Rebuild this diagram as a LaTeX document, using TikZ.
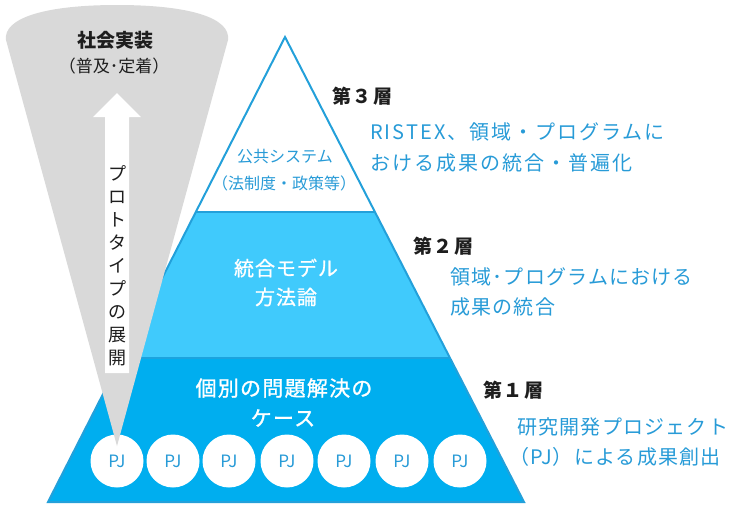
\documentclass[tikz,border=0pt]{standalone}
\usepackage{fontspec}
\newfontfamily\jp{Noto Sans CJK JP}
\usetikzlibrary{calc}
\definecolor{tblue}{RGB}{40,155,215}
\definecolor{lcyan}{RGB}{64,202,252}
\definecolor{mblue}{RGB}{0,174,239}
\definecolor{edgeblue}{RGB}{35,160,218}
\definecolor{fgrey}{RGB}{217,217,217}
\definecolor{tblack}{RGB}{30,30,30}
\tikzset{
  lvl/.style={anchor=west,inner sep=0pt,text=tblack,font=\jp\bfseries\fontsize{19}{22}\selectfont\addfontfeature{LetterSpace=8}},
  desc/.style={anchor=west,inner sep=0pt,text=tblue,font=\jp\fontsize{20}{23}\selectfont\addfontfeature{LetterSpace=6}},
  toptxt/.style={inner sep=0pt,text=tblue,font=\jp\fontsize{16}{19}\selectfont},
  midtxt/.style={inner sep=0pt,text=white,font=\jp\fontsize{20}{23}\selectfont\addfontfeature{LetterSpace=5,FakeBold=1}},
  bottxt/.style={inner sep=0pt,text=white,font=\jp\fontsize{21}{24}\selectfont\addfontfeature{LetterSpace=6,FakeBold=1.2}},
  pjc/.style={circle,fill=white,minimum size=53pt,inner sep=0pt,text=tblue,font=\jp\fontsize{17}{20}\selectfont},
  greytxt/.style={inner sep=0pt,text=tblack},
}
\begin{document}
\begin{tikzpicture}[x=1pt,y=-1pt]
\useasboundingbox (0,0) rectangle (733,512);
% pyramid
\coordinate (apex) at (285,37);
\coordinate (bl) at (48,502);
\coordinate (br) at (524,502);
\coordinate (l2) at ($(apex)!0.376!(bl)$);
\coordinate (r2) at ($(apex)!0.376!(br)$);
\coordinate (l3) at ($(apex)!0.690!(bl)$);
\coordinate (r3) at ($(apex)!0.690!(br)$);
\fill[mblue] (l3) -- (r3) -- (br) -- (bl) -- cycle;
\fill[lcyan] (l2) -- (r2) -- (r3) -- (l3) -- cycle;
\fill[white] (apex) -- (r2) -- (l2) -- cycle;
\draw[edgeblue,line width=2pt,line join=miter] (apex) -- (br) -- (bl) -- cycle;
\draw[edgeblue,line width=2pt] (l2) -- (r2);
\draw[edgeblue!80!mblue,line width=1.5pt] (l3) -- (r3);
% layer texts
\node[toptxt] (t3a) at (285,157) {公共システム};
\node[toptxt] (t3b) at (284,183) {（法制度・政策等）};
\node[midtxt] (t2a) at (286,268) {統合モデル};
\node[midtxt] (t2b) at (286,297) {方法論};
\node[bottxt] (t1a) at (284,388) {個別の問題解決の};
\node[bottxt] (t1b) at (283,418) {ケース};
% PJ circles
\foreach \i/\x in {1/117,2/173,3/229,4/287,5/344,6/402,7/460}{
  \node[pjc] (pj\i) at (\x,461) {PJ};
}
% grey funnel
\coordinate (ftip) at (117,446);
\fill[fgrey] (6,40) .. controls (3,18) and (45,5) .. (117,5) .. controls (190,5) and (231,18) .. (228,40) -- (ftip) -- cycle;
% white arrow
\fill[white] (105,373) -- (105,117) -- (93,117) -- (117,93) -- (141,117) -- (129,117) -- (129,373) -- cycle;
\node[greytxt,align=center,font=\jp\fontsize{18}{23}\selectfont] (proto) at (117,266)
  {プ\\ロ\\ト\\タ\\イ\\プ\\の\\展\\開};
\node[greytxt,font=\jp\bfseries\fontsize{19}{22}\selectfont] (shakai) at (115,40) {社会実装};
\node[greytxt,font=\jp\fontsize{17}{20}\selectfont] (fukyu) at (114,66) {（普及･定着）};
% right labels
\node[lvl] (L3) at (332,96) {第３層};
\node[desc,font=\jp\fontsize{20}{23}\selectfont\addfontfeature{LetterSpace=10}] (D3a) at (370,132) {RISTEX、領域・プログラムに};
\node[desc,font=\jp\fontsize{20}{23}\selectfont\addfontfeature{LetterSpace=10}] (D3b) at (370,163) {おける成果の統合・普遍化};
\node[lvl] (L2) at (413,246) {第２層};
\node[desc] (D2a) at (450,277) {領域･プログラムにおける};
\node[desc] (D2b) at (450,307) {成果の統合};
\node[lvl] (L1) at (483,390) {第１層};
\node[desc] (D1a) at (517,427) {研究開発プロジェクト};
\node[desc] (D1b) at (509,457) {（PJ）による成果創出};
\end{tikzpicture}
\end{document}
